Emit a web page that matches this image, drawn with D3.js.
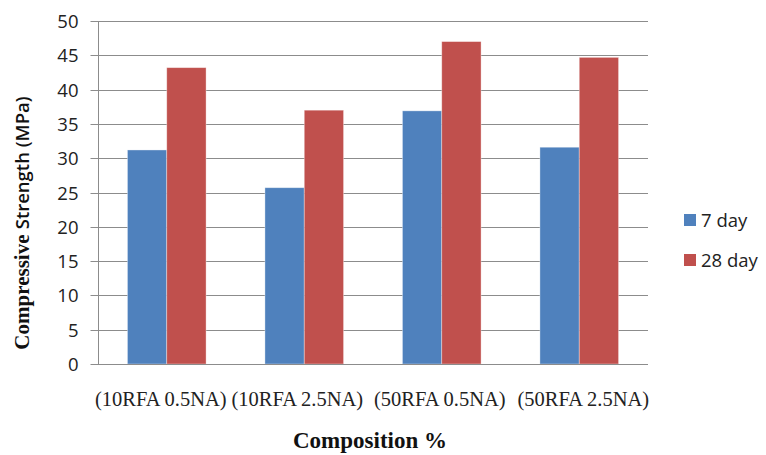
<!DOCTYPE html>
<html>
<head>
<meta charset="utf-8">
<script src="https://cdn.jsdelivr.net/npm/d3@7"></script>
<style>
  html, body { margin: 0; padding: 0; background: #fff; }
  svg { display: block; }
</style>
</head>
<body>
<svg id="chart" width="766" height="455"></svg>
<script>
const categories = ["(10RFA 0.5NA)", "(10RFA 2.5NA)", "(50RFA 0.5NA)", "(50RFA 2.5NA)"];
const seriesNames = ["7 day", "28 day"];
const day7 = [31.2, 25.7, 36.9, 31.6];
const day28 = [43.2, 37.0, 47.0, 44.7];
const yTicks = [0, 5, 10, 15, 20, 25, 30, 35, 40, 45, 50];
const colors = ["#4F81BD", "#C0504D"];

(function () {
const seriesValues = [day7, day28];
const svg = d3.select("#chart");

const pLeft = 98, pRight = 648, pTop = 21, pBottom = 364;

const y = d3.scaleLinear().domain([0, 50]).range([pBottom, pTop]);
const x0 = d3.scaleBand().domain(categories).range([pLeft, pRight])
  .paddingInner(0.428).paddingOuter(0.214);
const x1 = d3.scaleBand().domain(seriesNames).range([0, x0.bandwidth()]);

// gridlines
svg.append("g").selectAll("line").data(yTicks.filter(d => d > 0)).join("line")
  .attr("x1", pLeft).attr("x2", pRight)
  .attr("y1", d => Math.round(y(d)) + 0.5).attr("y2", d => Math.round(y(d)) + 0.5)
  .attr("stroke", "#8c8c8c").attr("stroke-width", 1);

// y axis
const yAxis = d3.axisLeft(y).tickValues(yTicks).tickSize(8).tickPadding(12);
const gy = svg.append("g").attr("transform", `translate(${pLeft + 0.5},0)`).call(yAxis);
gy.select(".domain").attr("stroke", "#8c8c8c").attr("d", `M0,${pTop}V${pBottom + 0.5}`);
gy.selectAll(".tick line").attr("stroke", "#8c8c8c");
gy.selectAll(".tick").attr("transform", d => `translate(0,${Math.round(y(d)) + 0.5})`);
gy.selectAll(".tick text")
  .attr("font-family", "'Open Sans', sans-serif").attr("font-size", "18.5px")
  .attr("fill", "#222").attr("dy", "0.34em");

// bars
const groups = svg.append("g").selectAll("g").data(categories).join("g")
  .attr("transform", d => `translate(${x0(d)},0)`);
groups.selectAll("rect")
  .data((c, i) => seriesNames.map((s, j) => ({ s, v: seriesValues[j][i], j })))
  .join("rect")
  .attr("x", d => x1(d.s))
  .attr("y", d => y(d.v))
  .attr("width", x1.bandwidth())
  .attr("height", d => y(0) - y(d.v))
  .attr("fill", d => colors[d.j])
  .attr("stroke", "rgba(255,255,255,0.45)").attr("stroke-width", 0.8);

// x axis
const labelShift = [-6, -7, -2, 4];
const xAxis = d3.axisBottom(x0).tickSize(0).tickPadding(30);
const gx = svg.append("g").attr("transform", `translate(0,${Math.round(pBottom) + 0.5})`).call(xAxis);
gx.select(".domain").attr("stroke", "#8c8c8c").attr("d", `M${pLeft},0H${pRight}`);
gx.selectAll(".tick text")
  .attr("font-family", "'Liberation Serif', 'Times New Roman', serif").attr("font-size", "20.5px")
  .attr("fill", "#222").attr("dy", "0.71em").attr("y", 27)
  .attr("x", (d, i) => labelShift[i]);

// axis titles
svg.append("text")
  .attr("x", 370).attr("y", 448)
  .attr("text-anchor", "middle")
  .attr("font-family", "'Liberation Serif', 'Times New Roman', serif")
  .attr("font-weight", "bold").attr("font-size", "23px").attr("fill", "#111")
  .text("Composition %");

const yt = svg.append("text")
  .attr("transform", "translate(29,223) rotate(-90)")
  .attr("text-anchor", "middle")
  .attr("fill", "#111").attr("font-weight", "bold");
yt.append("tspan").attr("font-family", "'Liberation Serif', serif").attr("font-size", "21px").text("Compressive ");
yt.append("tspan").attr("font-family", "'Open Sans', sans-serif").attr("font-size", "18.5px").attr("font-weight", "600").text("Strength (MPa)");

// legend
const legend = svg.append("g").selectAll("g").data(seriesNames).join("g")
  .attr("transform", (d, i) => `translate(684,${220 + i * 40})`);
legend.append("rect").attr("x", 0).attr("y", -6).attr("width", 12).attr("height", 12)
  .attr("fill", (d, i) => colors[i]);
legend.append("text").attr("x", 17).attr("y", 0).attr("dy", "0.36em")
  .attr("font-family", "'Open Sans', sans-serif").attr("font-size", "18.5px").attr("fill", "#222")
  .text(d => d);
})();
</script>
</body>
</html>
